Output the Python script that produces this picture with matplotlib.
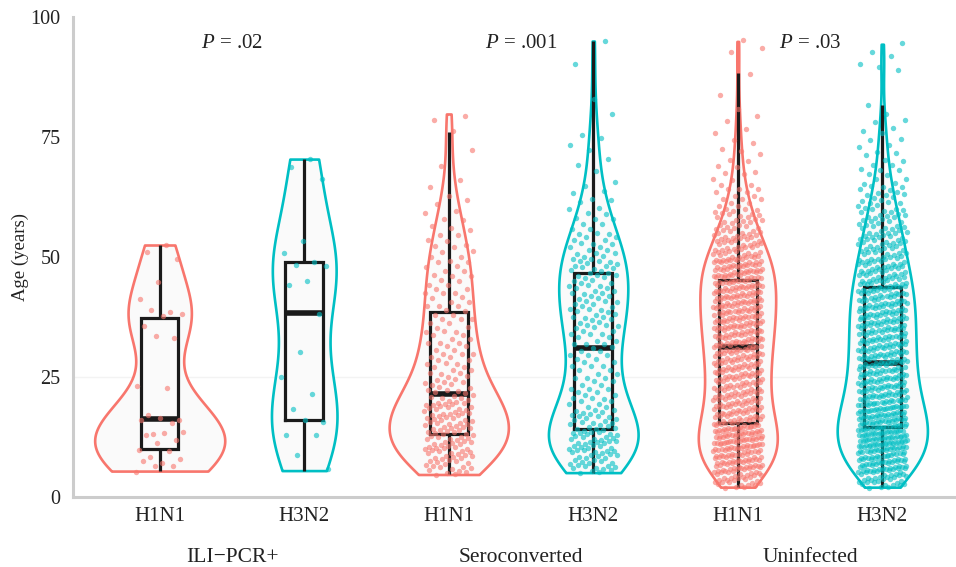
import numpy as np
import matplotlib
matplotlib.use("Agg")
import matplotlib.pyplot as plt
from matplotlib import rcParams

rcParams['font.family'] = ['Liberation Serif', 'DejaVu Serif']
rcParams['mathtext.fontset'] = 'custom'
rcParams['mathtext.rm'] = 'Liberation Serif'
rcParams['mathtext.it'] = 'Liberation Serif:italic'

# ---------------- data ----------------
group_labels = ["ILI\u2212PCR+", "Seroconverted", "Uninfected"]
subtype_labels = ["H1N1", "H3N2", "H1N1", "H3N2", "H1N1", "H3N2"]
p_labels = [r"$P$ = .02", r"$P$ = .001", r"$P$ = .03"]
y_ticks = [0, 25, 50, 75, 100]

# ILI-PCR+ individual ages (years)
ili_h1n1_ages = [52.5, 51.3, 49.4, 45.0, 41.0, 38.6, 38.5, 38.1, 38.0, 35.5, 33.4, 33.2,
                 23.3, 22.4, 17.1, 16.3, 16.3, 16.3, 15.2, 13.2, 13.2, 13.2, 13.2, 11.7,
                 11.5, 9.6, 9.6, 8.0, 8.0, 7.4, 7.4, 6.7, 6.2, 5.4]
ili_h3n2_ages = [70.4, 69.0, 66.0, 53.5, 50.6, 49.0, 48.0, 48.0, 45.3, 44.0, 38.4, 30.0,
                 25.0, 21.1, 18.3, 16.0, 15.8, 13.1, 12.6, 8.75, 5.5]

# Seroconverted / Uninfected: counts of participants per age band (band edges)
sero_h1n1_edges = [4.6, 8, 12, 16, 20, 25, 30, 35, 40, 45, 50, 55, 60, 65, 70, 75, 75.5,
                   76.5, 78, 80.4]
sero_h1n1_counts = [19, 29, 27, 30, 21, 17, 15, 13, 13, 12, 10, 7, 4, 2, 1, 0, 1, 0, 2]

sero_h3n2_edges = [5, 9, 14, 18, 22, 26, 30.5, 35, 40, 46.3, 50, 55, 60, 65, 70, 73, 76,
                   79, 80, 82.5, 83.5, 90, 91, 94.5, 95.5]
sero_h3n2_counts = [25, 37, 22, 15, 12, 13, 15, 21, 27, 18, 17, 11, 7, 3, 2, 3,
                    0, 1, 0, 1, 0, 1, 0, 1]

unin_h1n1_edges = [2, 5, 10, 15, 20, 25, 30, 35, 40, 45, 50, 55, 60, 65, 70, 75, 80, 85,
                   87, 89.8, 92, 95.5]
unin_h1n1_counts = [29, 68, 78, 58, 55, 57, 61, 66, 66, 67, 46, 29, 16, 9, 6, 4, 2, 0,
                    1, 0, 3]

unin_h3n2_edges = [2, 5, 10, 15, 20, 25, 30, 35, 40, 45, 50, 55, 60, 65, 70, 75, 80, 81,
                   82.4, 88, 91, 95]
unin_h3n2_counts = [30, 74, 91, 79, 64, 61, 60, 60, 58, 48, 40, 30, 21, 12, 8, 6, 0, 1,
                    0, 3, 3]

series_colors = ["#F8766D", "#00BFC4"]


def expand(edges, counts):
    vals = []
    for lo, hi, n in zip(edges[:-1], edges[1:], counts):
        if n > 0:
            vals.extend(lo + (hi - lo) * (np.arange(n) + 0.5) / n)
    return np.array(vals)


datasets = [
    np.array(ili_h1n1_ages, float),
    np.array(ili_h3n2_ages, float),
    expand(sero_h1n1_edges, sero_h1n1_counts),
    expand(sero_h3n2_edges, sero_h3n2_counts),
    expand(unin_h1n1_edges, unin_h1n1_counts),
    expand(unin_h3n2_edges, unin_h3n2_counts),
]


def kde(data, grid):
    n = len(data)
    sd = np.std(data, ddof=1)
    q1, q3 = np.percentile(data, [25, 75])
    bw = 0.9 * min(sd, (q3 - q1) / 1.34) * n ** (-0.2)
    z = (grid[:, None] - data[None, :]) / bw
    return np.exp(-0.5 * z ** 2).sum(axis=1) / (n * bw * np.sqrt(2 * np.pi))


# ---------------- figure ----------------
fig = plt.figure(figsize=(9.56, 5.67), dpi=100)
ax = fig.add_axes([73 / 956, 1 - 497 / 567, 1 - 73 / 956, (497 - 17) / 567])

grids, dens = [], []
for d in datasets:
    g = np.linspace(d.min(), d.max(), 512)
    grids.append(g)
    dens.append(kde(d, g))
dmax = max(v.max() for v in dens)

ax.axhline(25, color="#f3f3f3", lw=1.0, zorder=0)

box_half = 0.13
jit = 0.17
for i, d in enumerate(datasets):
    col = series_colors[i % 2]
    w = dens[i] / dmax * 0.45
    ax.fill_betweenx(grids[i], i - w, i + w, facecolor="#fafafa", edgecolor=col,
                     linewidth=1.9, zorder=1)
    q1, med, q3 = np.percentile(d, [25, 50, 75])
    iqr = q3 - q1
    up = d[d <= q3 + 1.5 * iqr].max()
    lo = d[d >= q1 - 1.5 * iqr].min()
    kw = dict(color="#1a1a1a", solid_capstyle="butt", zorder=2)
    ax.plot([i, i], [q3, up], lw=2.3, **kw)
    ax.plot([i, i], [lo, q1], lw=2.3, **kw)
    ax.plot([i - box_half, i + box_half, i + box_half, i - box_half, i - box_half],
            [q1, q1, q3, q3, q1], lw=2.3, color="#1a1a1a", zorder=2,
            solid_joinstyle="miter")
    ax.plot([i - box_half, i + box_half], [med, med], lw=4.0, **kw)
    # deterministic jitter (golden-ratio sequence) for point positions
    k = np.arange(1, len(d) + 1)
    xs = i + jit * (2 * ((k * 0.6180339887) % 1.0) - 1)
    ys = d + 0.4 * (2 * ((k * 0.5698402910) % 1.0) - 1)
    ax.scatter(xs, ys, s=15, color=col, alpha=0.6, linewidths=0, zorder=3)

ax.set_xlim(-0.6, 5.51)
ax.set_ylim(0, 100)
ax.set_xticks(range(6))
ax.set_xticklabels(subtype_labels, fontsize=15, color="#222222")
ax.set_yticks(y_ticks)
ax.set_yticklabels([str(t) for t in y_ticks], fontsize=14.5, color="#222222")
ax.tick_params(length=0)
ax.tick_params(axis="x", pad=7)
ax.tick_params(axis="y", pad=9)
for s in ["top", "right"]:
    ax.spines[s].set_visible(False)
for s in ["left", "bottom"]:
    ax.spines[s].set_color("#cccccc")
    ax.spines[s].set_linewidth(2.2)

for j in range(3):
    ax.text(2 * j + 0.5, 94.5, p_labels[j], ha="center", va="center", fontsize=15,
            color="#222222")
    ax.text(2 * j + 0.5, -0.125, group_labels[j], ha="center", va="center",
            fontsize=15.5, color="#222222", transform=ax.get_xaxis_transform())

fig.text(20 / 956, 1 - 257 / 567, "Age (years)", rotation=90, ha="center",
         va="center", fontsize=13.5, color="#222222")

fig.savefig("out.png", dpi=100)
